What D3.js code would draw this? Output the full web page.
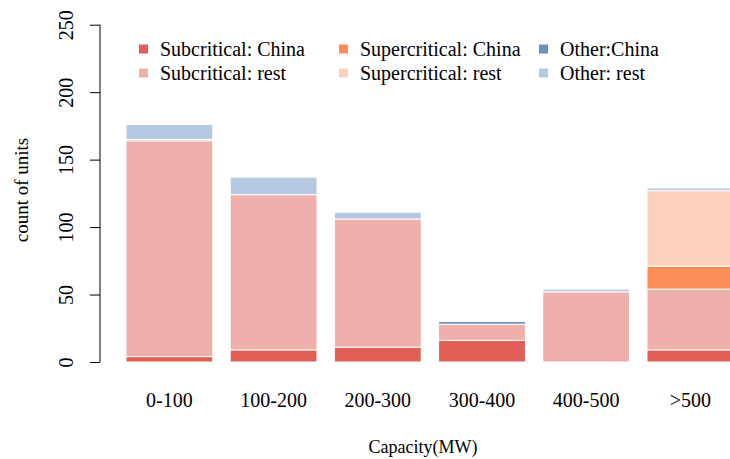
<!DOCTYPE html>
<html>
<head>
<meta charset="utf-8">
<script src="https://cdn.jsdelivr.net/npm/d3@7"></script>
<style>
  body { margin: 0; background: #fff; }
  svg { display: block; font-family: "Liberation Serif", "Times New Roman", serif; }
</style>
</head>
<body>
<div class="bar-chart"></div>
<script>
const categories = ["0-100", "100-200", "200-300", "300-400", "400-500", ">500"];
const seriesNames = ["Subcritical: China", "Subcritical: rest", "Supercritical: China",
  "Supercritical: rest", "Other:China", "Other: rest"];
const seriesColors = ["#e05e55", "#efafab", "#fc8d59", "#fdd0be", "#6b8fc0", "#b5c9e2"];

const subChina = [4, 9, 11, 16, 0, 9];
const subRest = [160, 115, 95, 12, 52, 45];
const superChina = [0, 0, 0, 0, 0, 17];
const superRest = [0, 0, 0, 0, 0, 56];
const otherChina = [1, 0, 0, 2, 0, 0];
const otherRest = [11, 13, 5, 0, 2, 2];

const yTicks = [0, 50, 100, 150, 200, 250];

const width = 730, height = 459;

const rows = categories.map((c, i) => ({
  cat: c,
  s0: subChina[i], s1: subRest[i], s2: superChina[i],
  s3: superRest[i], s4: otherChina[i], s5: otherRest[i]
}));
const keys = ["s0", "s1", "s2", "s3", "s4", "s5"];

const svg = d3.select(".bar-chart")
  .append("svg")
  .attr("width", width)
  .attr("height", height);

const yScale = d3.scaleLinear().domain([0, 250]).range([362, 24.7]);
const xScale = d3.scaleBand()
  .domain(categories)
  .range([126, 126 + 6 * 104.2 - 17.4])
  .paddingInner(1 / 6)
  .paddingOuter(0);

const stack = d3.stack().keys(keys)(rows);

// bars
svg.append("g")
  .selectAll("g")
  .data(stack)
  .join("g")
  .attr("fill", (d, i) => seriesColors[i])
  .selectAll("rect")
  .data(d => d.filter(p => p[1] - p[0] > 0))
  .join("rect")
  .attr("x", d => xScale(d.data.cat))
  .attr("width", xScale.bandwidth())
  .attr("y", d => yScale(d[1]))
  .attr("height", d => yScale(d[0]) - yScale(d[1]))
  .attr("stroke", "#fff")
  .attr("stroke-width", 1);

// y axis
const yAxis = d3.axisLeft(yScale).tickValues(yTicks).tickSize(10).tickPadding(0).tickFormat(d3.format("d"));
const gy = svg.append("g")
  .attr("transform", "translate(100,0)")
  .call(yAxis)
  .attr("font-family", null)
  .attr("font-size", null);
gy.select(".domain").attr("stroke", "#000").attr("d", "M0," + yScale(0) + "V" + yScale(250));
gy.selectAll(".tick line").attr("stroke", "#000");
gy.selectAll(".tick text")
  .attr("font-size", 20)
  .attr("fill", "#000")
  .attr("text-anchor", "middle")
  .attr("x", 0)
  .attr("transform", "translate(-34,0) rotate(-90)")
  .attr("dy", "0.35em");

// x labels
svg.append("g")
  .selectAll("text")
  .data(categories)
  .join("text")
  .attr("x", d => xScale(d) + xScale.bandwidth() / 2)
  .attr("y", 407)
  .attr("text-anchor", "middle")
  .attr("font-size", 20)
  .text(d => d);

// axis titles
svg.append("text")
  .attr("x", 423)
  .attr("y", 453)
  .attr("text-anchor", "middle")
  .attr("font-size", 18)
  .text("Capacity(MW)");

svg.append("text")
  .attr("transform", "translate(28,190) rotate(-90)")
  .attr("text-anchor", "middle")
  .attr("font-size", 19)
  .text("count of units");

// legend
const legendOrder = [0, 2, 4, 1, 3, 5];
const legend = svg.append("g")
  .selectAll("g")
  .data(legendOrder)
  .join("g")
  .attr("transform", (d, i) => "translate(" + (139 + (i % 3) * 200) + "," + (49 + Math.floor(i / 3) * 24) + ")");

legend.append("rect")
  .attr("x", 0).attr("y", -4.5)
  .attr("width", 9).attr("height", 9)
  .attr("fill", d => seriesColors[d]);

legend.append("text")
  .attr("x", 21)
  .attr("y", 0)
  .attr("dy", "0.35em")
  .attr("font-size", 20)
  .text(d => seriesNames[d]);
</script>
</body>
</html>
